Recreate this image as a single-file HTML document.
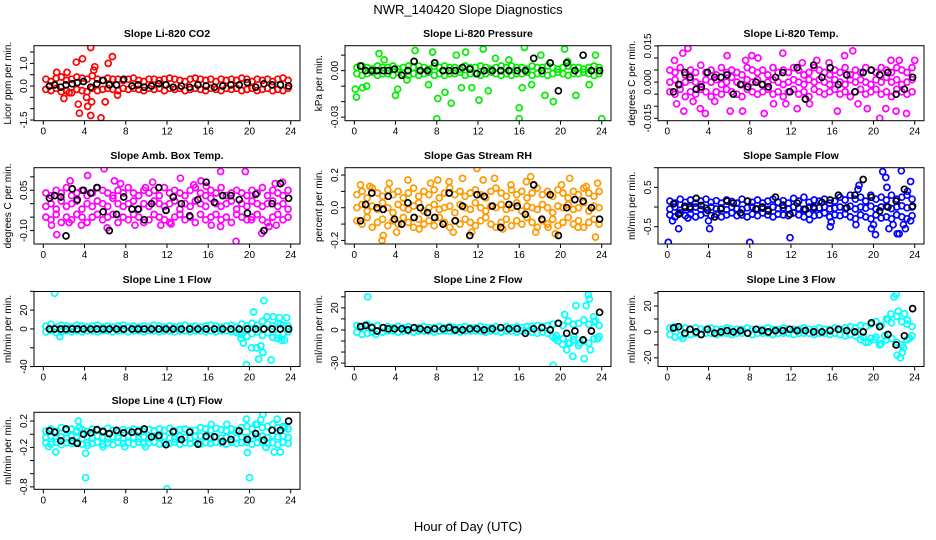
<!DOCTYPE html>
<html><head><meta charset="utf-8"><title>NWR_140420 Slope Diagnostics</title>
<style>
html,body{margin:0;padding:0;background:#fff;}
svg{display:block;font-family:"Liberation Sans",Arial,sans-serif;}
</style></head>
<body>
<svg id="chart" width="936" height="540" viewBox="0 0 936 540">
<defs id="defs"></defs>
<text x="468" y="14" text-anchor="middle" font-size="13">NWR_140420  Slope Diagnostics</text>
<text x="468" y="531" text-anchor="middle" font-size="13">Hour of Day (UTC)</text>
</svg>
<script>
const hours=[0.25,0.75,1.25,1.75,2.25,2.75,3.25,3.75,4.25,4.75,5.25,5.75,6.25,6.75,7.25,7.75,8.25,8.75,9.25,9.75,10.25,10.75,11.25,11.75,12.25,12.75,13.25,13.75,14.25,14.75,15.25,15.75,16.25,16.75,17.25,17.75,18.25,18.75,19.25,19.75,20.25,20.75,21.25,21.75,22.25,22.75,23.25,23.75];
const blackHours=[0.6,1.1,1.7,2.2,2.8,3.3,3.9,4.6,5.2,5.8,6.4,7.1,7.8,8.6,9.2,9.8,10.5,11.2,11.9,12.6,13.4,14.2,15.0,15.8,16.6,17.4,18.2,19.0,19.8,20.6,21.4,22.2,23.0,23.8];
const xTicks=[0,4,8,12,16,20,24];

const co2Hi=[0.3,0.2,0.35,0.4,0.25,0.3,0.4,0.35,0.3,0.45,0.3,0.25,0.35,0.3,0.3,0.25,0.3,0.35,0.25,0.2,0.3,0.3,0.25,0.3,0.35,0.3,0.25,0.2,0.3,0.35,0.3,0.25,0.3,0.2,0.3,0.25,0.3,0.25,0.35,0.3,0.2,0.3,0.25,0.3,0.2,0.3,0.35,0.25];
const co2Lo=[-0.15,-0.2,-0.1,-0.25,-0.2,-0.3,-0.15,-0.2,-0.25,-0.1,-0.2,-0.15,-0.1,-0.15,-0.2,-0.1,-0.15,-0.1,-0.15,-0.2,-0.1,-0.15,-0.1,-0.2,-0.1,-0.15,-0.1,-0.2,-0.15,-0.1,-0.15,-0.2,-0.1,-0.15,-0.2,-0.1,-0.15,-0.1,-0.2,-0.15,-0.1,-0.2,-0.15,-0.1,-0.2,-0.15,-0.2,-0.1];
const co2Out=[[1.3,0.6],[2.3,0.6],[3.2,1.05],[3.8,1.2],[4.6,1.7],[5.0,0.85],[4.9,0.7],[6.3,1.0],[6.7,1.3],[2.0,-0.55],[3.4,-0.8],[3.5,-1.2],[4.2,-0.5],[4.3,-0.9],[4.6,-1.3],[4.7,-0.7],[5.6,-1.4],[6.0,-0.7],[7.2,-0.4],[2.5,-0.3]];
const co2Black=[0.0,0.05,-0.05,0.05,0.1,0.15,0.2,-0.05,0.1,0.25,0.05,0.05,0.3,0.0,0.05,-0.05,0.0,0.1,0.05,-0.05,0.0,-0.05,0.05,0.0,-0.05,0.0,0.05,0.05,0.15,-0.05,0.1,0.05,0.05,0.0];

const presHi=[0.002,0.003,0.002,0.001,0.003,0.002,0.002,0.003,0.001,0.002,0.003,0.002,0.003,0.002,0.001,0.003,0.002,0.003,0.002,0.002,0.001,0.003,0.002,0.002,0.003,0.002,0.001,0.002,0.003,0.002,0.003,0.002,0.002,0.001,0.003,0.002,0.002,0.003,0.002,0.001,0.002,0.003,0.002,0.002,0.001,0.002,0.003,0.002];
const presLo=[-0.002,-0.003,-0.002,-0.001,-0.003,-0.002,-0.002,-0.003,-0.001,-0.002,-0.003,-0.002,-0.003,-0.002,-0.001,-0.003,-0.002,-0.003,-0.002,-0.002,-0.001,-0.003,-0.002,-0.002,-0.003,-0.002,-0.001,-0.002,-0.003,-0.002,-0.003,-0.002,-0.002,-0.001,-0.003,-0.002,-0.002,-0.003,-0.002,-0.001,-0.002,-0.003,-0.002,-0.002,-0.001,-0.002,-0.003,-0.002];
const presOut=[[0.1,-0.012],[0.2,-0.017],[0.8,-0.011],[1.2,-0.01],[2.4,0.011],[2.9,0.007],[4.0,-0.016],[4.2,-0.012],[5.1,-0.006],[5.9,0.013],[7.2,-0.009],[7.6,0.012],[8.0,-0.031],[8.1,-0.018],[8.8,-0.014],[9.4,-0.021],[9.9,0.01],[10.4,-0.011],[10.8,0.012],[11.4,-0.011],[12.1,-0.019],[12.5,0.014],[13.0,-0.013],[13.7,0.008],[15.0,0.007],[16.0,-0.024],[16.0,-0.031],[16.5,0.015],[16.3,-0.011],[17.2,-0.009],[18.1,0.01],[18.5,-0.016],[19.3,-0.02],[20.4,0.014],[20.7,0.006],[21.5,-0.016],[22.8,-0.009],[23.4,0.01],[24.0,-0.031]];
const presBlack=[0.003,0.0,0.0,0.0,0.0,0.0,0.001,-0.003,0.0,0.006,0.0,0.0,0.005,0.0,0.0,0.0,0.002,0.001,-0.002,0.0,0.0,0.0,0.0,0.0,0.0,0.008,0.0,0.005,-0.013,0.005,0.0,0.01,0.0,0.0];

const tempHi=[0.005,0.004,0.006,0.003,0.005,0.004,0.007,0.004,0.005,0.003,0.006,0.004,0.005,0.004,0.003,0.006,0.005,0.004,0.005,0.003,0.006,0.004,0.005,0.004,0.006,0.005,0.003,0.004,0.006,0.005,0.004,0.003,0.005,0.004,0.006,0.003,0.005,0.004,0.006,0.005,0.004,0.006,0.005,0.004,0.006,0.005,0.004,0.006];
const tempMid=[0.0,0.001,-0.001,0.0,0.001,0.0,-0.001,0.001,0.0,0.001,-0.001,0.0,0.002,0.0,-0.001,0.001,0.0,0.001,-0.001,0.0,0.001,0.0,-0.001,0.0,0.001,0.0,-0.001,0.001,0.0,0.001,0.0,-0.001,0.001,0.0,-0.001,0.001,0.0,0.001,0.0,-0.001,0.001,0.0,0.002,0.0,0.001,-0.001,0.0,0.001];
const tempLo=[-0.004,-0.005,-0.003,-0.006,-0.004,-0.005,-0.003,-0.004,-0.006,-0.004,-0.005,-0.003,-0.004,-0.005,-0.006,-0.003,-0.004,-0.005,-0.004,-0.003,-0.005,-0.004,-0.006,-0.004,-0.003,-0.005,-0.004,-0.006,-0.003,-0.004,-0.005,-0.004,-0.003,-0.005,-0.004,-0.006,-0.004,-0.003,-0.005,-0.004,-0.003,-0.005,-0.004,-0.006,-0.003,-0.004,-0.005,-0.004];
const tempOut=[[0.7,0.009],[1.5,0.012],[2.0,0.014],[0.9,-0.009],[1.6,-0.012],[2.5,-0.008],[3.2,-0.011],[3.7,-0.013],[4.6,-0.008],[5.8,0.011],[6.1,-0.012],[7.3,-0.012],[7.6,0.009],[8.2,0.011],[8.8,0.010],[9.4,-0.013],[10.3,-0.009],[11.2,0.012],[11.5,-0.009],[12.6,-0.011],[13.1,0.008],[13.8,-0.009],[14.5,0.009],[15.7,0.008],[16.5,-0.012],[17.2,0.011],[18.0,0.013],[18.5,-0.009],[19.4,-0.011],[20.6,-0.015],[21.2,-0.011],[22.2,-0.012],[22.5,0.009],[23.2,-0.013],[24.0,0.009],[21.7,0.009]];
const tempBlack=[-0.004,-0.001,0.004,0.002,-0.003,-0.002,0.004,0.002,0.002,0.003,-0.005,-0.001,-0.002,0.0,-0.001,-0.002,0.002,0.004,-0.004,0.006,-0.007,0.007,0.002,0.006,-0.001,0.003,-0.004,0.004,0.005,0.003,0.004,-0.005,-0.003,0.002];

const ambHi=[0.04,0.03,0.05,0.04,0.06,0.03,0.04,0.05,0.03,0.04,0.06,0.05,0.04,0.03,0.05,0.04,0.06,0.04,0.03,0.05,0.04,0.05,0.03,0.06,0.04,0.05,0.04,0.03,0.05,0.06,0.04,0.03,0.05,0.04,0.06,0.03,0.04,0.05,0.04,0.03,0.05,0.04,0.06,0.03,0.05,0.04,0.03,0.05];
const ambMid=[-0.01,0.0,-0.02,0.01,-0.01,0.0,0.01,-0.02,0.0,-0.01,0.01,0.0,-0.01,0.02,0.0,-0.01,0.0,0.01,-0.02,0.0,-0.01,0.01,0.0,-0.01,0.0,0.01,-0.02,0.0,-0.01,0.01,0.0,-0.01,0.02,0.0,-0.01,0.0,0.01,-0.02,0.0,-0.01,0.01,0.0,-0.01,0.0,0.01,-0.01,0.0,-0.02];
const ambLo=[-0.05,-0.06,-0.04,-0.07,-0.05,-0.06,-0.04,-0.05,-0.07,-0.05,-0.04,-0.06,-0.05,-0.04,-0.07,-0.05,-0.06,-0.04,-0.05,-0.07,-0.06,-0.04,-0.05,-0.06,-0.07,-0.05,-0.04,-0.06,-0.05,-0.07,-0.04,-0.06,-0.05,-0.04,-0.06,-0.05,-0.07,-0.04,-0.05,-0.06,-0.05,-0.04,-0.06,-0.07,-0.05,-0.04,-0.06,-0.05];
const ambOut=[[1.3,-0.115],[2.6,0.085],[4.3,0.105],[0.8,-0.08],[2.5,-0.07],[5.9,0.13],[6.2,-0.09],[6.9,0.085],[7.5,0.075],[8.9,-0.08],[10.6,0.08],[11.4,-0.08],[13.3,0.095],[14.6,0.07],[15.3,0.085],[15.8,0.065],[17.2,0.12],[17.2,-0.085],[18.7,-0.14],[19.6,0.12],[20.2,-0.06],[21.2,-0.11],[21.9,-0.085],[22.5,0.075],[22.6,-0.08],[23.2,0.08],[12.4,-0.075],[3.7,-0.08],[9.9,0.06],[16.3,-0.08]];
const ambBlack=[0.02,0.03,0.025,-0.12,0.055,0.015,0.05,0.04,0.06,-0.03,-0.1,-0.04,0.025,-0.02,-0.02,-0.06,0.0,0.06,-0.025,0.025,0.0,-0.045,0.015,0.08,0.005,0.03,0.03,0.015,-0.035,0.035,-0.1,0.0,0.075,0.02];

const rhHi=[0.08,0.1,0.06,0.12,0.09,0.07,0.11,0.08,0.1,0.06,0.09,0.12,0.07,0.1,0.08,0.11,0.06,0.09,0.12,0.08,0.1,0.07,0.09,0.11,0.08,0.06,0.1,0.12,0.09,0.07,0.11,0.08,0.1,0.06,0.09,0.12,0.08,0.1,0.07,0.11,0.09,0.06,0.1,0.08,0.12,0.09,0.07,0.1];
const rhMid=[0.0,0.02,-0.02,0.01,-0.01,0.03,0.0,-0.03,0.02,0.0,-0.01,0.01,0.03,-0.02,0.0,0.02,-0.01,0.0,0.01,-0.03,0.02,0.0,-0.01,0.03,0.0,-0.02,0.01,0.0,0.02,-0.01,0.0,0.03,-0.02,0.01,0.0,-0.01,0.02,0.0,-0.03,0.01,0.0,0.02,-0.01,0.0,0.03,-0.02,0.01,0.0];
const rhLo=[-0.08,-0.1,-0.06,-0.12,-0.09,-0.07,-0.11,-0.08,-0.1,-0.06,-0.09,-0.12,-0.07,-0.1,-0.08,-0.11,-0.06,-0.09,-0.12,-0.08,-0.1,-0.07,-0.09,-0.11,-0.08,-0.06,-0.1,-0.12,-0.09,-0.07,-0.11,-0.08,-0.1,-0.06,-0.09,-0.12,-0.08,-0.1,-0.07,-0.11,-0.09,-0.06,-0.1,-0.08,-0.12,-0.09,-0.07,-0.1];
const rhOut=[[0.6,0.14],[1.5,0.13],[2.7,-0.2],[2.8,-0.17],[3.4,0.15],[4.1,-0.15],[5.2,0.17],[6.3,-0.13],[7.4,0.15],[8.1,0.17],[9.2,0.16],[10.5,0.18],[11.4,-0.15],[11.9,0.24],[12.5,0.17],[13.6,0.18],[15.2,0.14],[16.7,0.16],[17.1,0.19],[17.6,-0.15],[18.8,-0.12],[19.5,-0.16],[20.1,0.14],[20.9,0.18],[21.7,-0.12],[22.5,0.13],[23.4,-0.18],[23.6,0.15],[9.6,-0.15],[14.4,-0.13]];
const rhBlack=[-0.08,0.02,0.09,0.0,-0.01,0.07,-0.07,-0.1,0.03,-0.06,0.0,-0.03,-0.06,-0.1,0.09,-0.08,0.01,-0.17,0.08,0.07,0.01,-0.12,0.02,0.01,-0.04,0.14,-0.07,0.08,-0.17,0.0,0.05,0.04,0.0,-0.07];

const sampHi=[0.15,0.1,0.2,0.12,0.18,0.1,0.15,0.2,0.12,0.16,0.1,0.18,0.14,0.1,0.2,0.15,0.12,0.18,0.1,0.15,0.2,0.12,0.16,0.1,0.22,0.15,0.25,0.12,0.18,0.15,0.2,0.1,0.15,0.25,0.18,0.3,0.2,0.25,0.15,0.3,0.2,0.25,0.18,0.3,0.2,0.25,0.3,0.2];
const sampMid=[-0.05,0.0,-0.08,-0.02,-0.05,0.0,-0.06,-0.03,0.0,-0.05,-0.02,-0.07,0.0,-0.04,-0.06,-0.02,0.0,-0.05,-0.03,-0.06,0.0,-0.04,-0.02,-0.05,0.0,-0.03,-0.06,0.0,-0.04,-0.02,0.0,-0.05,-0.03,0.0,-0.04,0.02,-0.05,0.0,-0.03,0.02,-0.05,0.0,0.02,-0.04,0.0,0.03,-0.02,0.0];
const sampLo=[-0.2,-0.25,-0.15,-0.22,-0.18,-0.25,-0.2,-0.15,-0.22,-0.18,-0.25,-0.2,-0.15,-0.22,-0.2,-0.25,-0.18,-0.22,-0.15,-0.2,-0.25,-0.18,-0.2,-0.22,-0.15,-0.2,-0.25,-0.18,-0.22,-0.2,-0.15,-0.25,-0.2,-0.22,-0.18,-0.25,-0.3,-0.2,-0.25,-0.3,-0.2,-0.28,-0.25,-0.3,-0.2,-0.25,-0.3,-0.22];
const sampOut=[[0.1,-0.9],[0.5,-0.35],[1.1,-0.55],[2.0,-0.28],[4.1,-0.55],[4.0,-0.35],[8.0,-0.9],[11.9,-0.78],[13.8,-0.32],[15.8,-0.5],[15.9,-0.38],[18.3,-0.45],[18.6,0.55],[18.5,0.45],[19.8,-0.55],[20.2,-0.7],[20.0,-0.45],[20.9,0.9],[21.2,0.75],[21.3,0.5],[21.5,-0.55],[22.3,-0.68],[22.5,-0.68],[22.7,0.92],[22.9,-0.45],[23.1,-0.55],[23.3,0.4],[23.6,0.65],[23.6,-0.35],[21.9,-0.45]];
const sampBlack=[0.08,-0.18,0.02,0.0,0.22,0.04,-0.08,-0.25,-0.05,0.15,0.1,-0.15,0.15,-0.05,0.0,-0.1,0.25,0.05,-0.18,0.1,-0.06,0.0,0.12,0.18,0.3,-0.02,0.3,0.7,0.25,-0.1,0.0,0.15,0.45,0.02];

const l1Hi=[3,5,2,4,3,2,4,3,2,3,4,2,3,2,3,4,2,3,2,3,2,4,3,2,3,2,3,4,2,3,2,3,4,3,2,3,4,2,5,3,6,4,8,5,3,6,4,3];
const l1Lo=[-3,-2,-4,-3,-2,-3,-2,-3,-2,-2,-3,-2,-2,-3,-2,-2,-3,-2,-2,-3,-2,-2,-3,-2,-2,-3,-2,-2,-3,-2,-2,-3,-2,-3,-2,-2,-3,-4,-6,-8,-5,-3,-7,-4,-9,-6,-5,-3];
const l1Out=[[1.1,38],[1.6,-8],[19.2,-10],[19.7,-38],[19.4,-15],[20.2,-20],[20.4,18],[20.7,-20],[20.9,-32],[21.1,-18],[21.3,-25],[21.4,30],[21.7,13],[22.1,-33],[22.3,13],[22.7,-10],[22.9,12],[23.1,-12],[23.4,-12],[23.6,12],[19.0,-5],[23.0,5]];
const l1Black=[0,0,0,0,0,0,0,0,0,0,0,0,0,0,0,0,0,0,0,0,0,0,0,0,0,0,0,0,0,0,0,0,0,0];

const l2Hi=[4,3,5,3,4,2,3,2,3,2,3,2,2,3,2,2,3,2,3,2,2,3,2,2,3,2,2,3,2,3,2,3,2,3,3,4,3,4,5,6,4,8,5,6,9,5,7,4];
const l2Lo=[-2,-4,-3,-2,-1,-2,-1,-1,-2,-1,-1,-2,-1,-1,-1,-2,-1,-1,-1,-1,-2,-1,-1,-1,-1,-2,-1,-1,-2,-1,-1,-2,-1,-1,-2,-3,-2,-3,-6,-10,-8,-12,-9,-14,-10,-12,-8,-6];
const l2Out=[[1.3,30],[2.1,-4],[19.3,-32],[19.5,-8],[19.6,-5],[20.2,-13],[20.4,14],[20.6,-18],[20.9,-12],[21.2,-24],[21.3,-6],[21.5,22],[21.9,-12],[22.3,-26],[22.5,22],[22.8,28],[22.9,-18],[23.2,12],[23.4,8],[23.6,-8],[22.7,32]];
const l2Black=[3,4,2,-1,2,1,1,1,0,2,1,0,1,1,2,0,0,1,1,0,1,2,1,1,-3,1,2,0,6,-3,-1,-9,-1,16];

const l3Hi=[3,4,2,3,2,3,2,2,3,2,2,3,2,2,2,3,2,2,2,3,2,2,3,2,2,2,3,2,2,3,2,2,3,2,3,4,3,5,4,6,8,5,10,7,12,8,6,4];
const l3Lo=[-2,-4,-3,-2,-2,-1,-2,-1,-1,-2,-1,-1,-2,-1,-1,-1,-2,-1,-1,-1,-2,-1,-1,-1,-2,-1,-1,-1,-2,-1,-1,-2,-1,-2,-3,-2,-3,-6,-8,-5,-4,-9,-6,-5,-8,-10,-6,-3];
const l3Out=[[1.5,-5],[19.0,-4],[19.5,-8],[20.1,-6],[20.6,-10],[21.1,-3],[21.4,10],[21.7,14],[22.0,27],[22.2,29],[22.3,-18],[22.6,-20],[22.8,-16],[23.0,14],[23.3,9],[22.9,-12],[23.5,-5],[22.4,16]];
const l3Black=[3,4,-1,2,0,-2,2,-1,0,1,0,1,-1,2,1,0,1,1,2,1,1,0,0,1,2,1,0,0,7,4,-2,-10,-3,18];

const l4Hi=[0.05,0.08,0.04,0.1,0.06,0.08,0.05,0.07,0.04,0.08,0.06,0.05,0.09,0.06,0.04,0.07,0.05,0.08,0.06,0.04,0.07,0.05,0.08,0.06,0.09,0.05,0.07,0.08,0.05,0.06,0.1,0.08,0.06,0.09,0.07,0.05,0.08,0.06,0.1,0.12,0.08,0.15,0.1,0.12,0.15,0.1,0.12,0.08];
const l4Mid=[-0.05,-0.03,-0.07,-0.04,-0.06,-0.03,-0.05,-0.07,-0.04,-0.06,-0.03,-0.05,-0.07,-0.04,-0.05,-0.06,-0.03,-0.05,-0.07,-0.04,-0.06,-0.03,-0.05,-0.04,-0.06,-0.07,-0.03,-0.05,-0.06,-0.04,-0.03,-0.05,-0.07,-0.04,-0.06,-0.05,-0.03,-0.06,-0.04,-0.05,-0.02,-0.04,-0.03,-0.05,-0.02,-0.04,-0.03,-0.05];
const l4Lo=[-0.13,-0.15,-0.12,-0.16,-0.13,-0.14,-0.12,-0.15,-0.13,-0.14,-0.12,-0.15,-0.13,-0.16,-0.12,-0.14,-0.13,-0.15,-0.12,-0.14,-0.13,-0.12,-0.15,-0.13,-0.14,-0.12,-0.15,-0.13,-0.14,-0.12,-0.15,-0.13,-0.14,-0.12,-0.13,-0.15,-0.12,-0.14,-0.13,-0.12,-0.15,-0.13,-0.12,-0.14,-0.13,-0.16,-0.12,-0.14];
const l4Out=[[0.5,-0.19],[1.2,-0.27],[3.4,0.2],[3.5,0.1],[4.1,-0.66],[4.1,-0.29],[4.3,-0.17],[5.8,-0.19],[7.9,-0.19],[9.9,-0.19],[12.0,-0.83],[16.3,0.15],[19.7,0.23],[19.8,-0.28],[20.0,-0.66],[20.6,0.15],[21.1,0.22],[21.3,0.3],[21.6,-0.2],[22.4,-0.27],[22.7,0.23],[23.0,-0.27],[23.4,0.1],[17.8,0.15]];
const l4Black=[0.05,0.03,-0.1,0.08,-0.1,-0.14,0.0,0.02,0.07,0.04,0.01,0.06,0.02,0.03,0.04,0.08,-0.04,-0.02,-0.16,0.04,-0.08,0.03,-0.15,-0.03,-0.04,-0.11,-0.08,0.05,-0.08,0.01,-0.09,0.06,0.06,0.2];

const panels=[
 {id:'co2',title:'Slope Li-820 CO2',ylab:'Licor ppm per min.',col:0,row:0,dom:[-1.53,1.78],ticks:[-1.5,-1,-0.5,0,0.5,1,1.5],labels:[[-1.5,'-1.5'],[0,'0.0'],[1,'1.0']],color:'#ff0000',bands:[co2Hi,co2Lo],out:co2Out,black:co2Black},
 {id:'pressure',title:'Slope Li-820 Pressure',ylab:'kPa per min.',col:1,row:0,dom:[-0.0323,0.0161],ticks:[-0.03,-0.02,-0.01,0,0.01],labels:[[-0.03,'-0.03'],[0,'0.00']],color:'#00ee00',bands:[presHi,presLo],out:presOut,black:presBlack},
 {id:'temp',title:'Slope Li-820 Temp.',ylab:'degrees C per min.',col:2,row:0,dom:[-0.016,0.0151],ticks:[-0.015,-0.01,-0.005,0,0.005,0.01,0.015],labels:[[-0.015,'-0.015'],[0,'0.000'],[0.015,'0.015']],color:'#ff00ff',bands:[tempHi,tempMid,tempLo],out:tempOut,black:tempBlack},
 {id:'ambtemp',title:'Slope Amb. Box Temp.',ylab:'degrees C per min.',col:0,row:1,dom:[-0.15,0.134],ticks:[-0.1,-0.05,0,0.05,0.1],labels:[[-0.1,'-0.10'],[0.05,'0.05']],color:'#ff00ff',bands:[ambHi,ambMid,ambLo],out:ambOut,black:ambBlack},
 {id:'rh',title:'Slope Gas Stream RH',ylab:'percent per min.',col:1,row:1,dom:[-0.222,0.245],ticks:[-0.2,-0.1,0,0.1,0.2],labels:[[-0.2,'-0.2'],[0,'0.0'],[0.2,'0.2']],color:'#ff9900',bands:[rhHi,rhMid,rhLo],out:rhOut,black:rhBlack},
 {id:'sampleflow',title:'Slope Sample Flow',ylab:'ml/min per min.',col:2,row:1,dom:[-0.94,1.0],ticks:[-0.5,0,0.5,1.0],labels:[[-0.5,'-0.5'],[0.5,'0.5']],color:'#0000ff',bands:[sampHi,sampMid,sampLo],out:sampOut,black:sampBlack},
 {id:'line1',title:'Slope Line 1 Flow',ylab:'ml/min per min.',col:0,row:2,dom:[-39.9,39.8],ticks:[-40,-20,0,20,40],labels:[[-40,'-40'],[0,'0'],[20,'20']],color:'#00ffff',bands:[l1Hi,l1Lo],out:l1Out,black:l1Black},
 {id:'line2',title:'Slope Line 2 Flow',ylab:'ml/min per min.',col:1,row:2,dom:[-33.1,34.8],ticks:[-30,-20,-10,0,10,20,30],labels:[[-30,'-30'],[0,'0'],[20,'20']],color:'#00ffff',bands:[l2Hi,l2Lo],out:l2Out,black:l2Black},
 {id:'line3',title:'Slope Line 3 Flow',ylab:'ml/min per min.',col:2,row:2,dom:[-26.7,31.2],ticks:[-20,-10,0,10,20,30],labels:[[-20,'-20'],[0,'0'],[20,'20']],color:'#00ffff',bands:[l3Hi,l3Lo],out:l3Out,black:l3Black},
 {id:'line4',title:'Slope Line 4 (LT) Flow',ylab:'ml/min per min.',col:0,row:3,dom:[-0.837,0.333],ticks:[-0.8,-0.6,-0.4,-0.2,0,0.2],labels:[[-0.8,'-0.8'],[-0.2,'-0.2'],[0.2,'0.2']],color:'#00ffff',bands:[l4Hi,l4Mid,l4Lo],out:l4Out,black:l4Black}
];

const NS='http://www.w3.org/2000/svg';
const svg=document.getElementById('chart');
const defs=document.getElementById('defs');
const colLeft=[34,345,658];
const rowBox=[[45.7,120.7],[167.7,244],[291.5,366.5],[412.3,489.3]];
const boxW=266;
function mk(tag,attrs,parent){const e=document.createElementNS(NS,tag);for(const k in attrs)e.setAttribute(k,attrs[k]);parent.appendChild(e);return e;}

panels.forEach(p=>{
  const L=colLeft[p.col],T=rowBox[p.row][0],B=rowBox[p.row][1],R=L+boxW;
  const X=h=>L+9.3+h*(247.4/24);
  const Y=v=>B-(v-p.dom[0])/(p.dom[1]-p.dom[0])*(B-T);
  const cp=mk('clipPath',{id:'clip-'+p.id},defs);
  mk('rect',{x:L,y:T,width:boxW,height:B-T},cp);
  const g=mk('g',{},svg);
  
  
  const t=mk('text',{x:(L+R)/2,y:T-8.5,'text-anchor':'middle','font-size':'10.5','font-weight':'bold'},g);
  t.textContent=p.title;
  
  
  const pts=mk('g',{fill:'none','stroke-width':'1.7','clip-path':'url(#clip-'+p.id+')'},g);
  
  
  p.bands.forEach(arr=>{arr.forEach((v,i)=>{
    const c=mk('circle',{cx:X(hours[i]).toFixed(1),cy:Y(v).toFixed(1),r:3,stroke:p.color},pts);
    
    
  });});
  p.out.forEach(o=>{
    const c=mk('circle',{cx:X(o[0]).toFixed(1),cy:Y(o[1]).toFixed(1),r:3,stroke:p.color},pts);
    
    
  });
  p.black.forEach((v,i)=>{
    const c=mk('circle',{cx:X(blackHours[i]).toFixed(1),cy:Y(v).toFixed(1),r:3,stroke:'#000'},pts);
    
    
  });
  const box=mk('rect',{x:L,y:T,width:boxW,height:B-T,fill:'none',stroke:'#000','stroke-width':'1'},g);
  
  
  const xa=mk('g',{'font-size':'10'},g);
  
  
  xTicks.forEach(h=>{
    mk('line',{x1:X(h),x2:X(h),y1:B,y2:B+4,stroke:'#000'},xa);
    const tx=mk('text',{x:X(h),y:B+14,'text-anchor':'middle'},xa);
    tx.textContent=h;
    
    
  });
  const ya=mk('g',{'font-size':'10'},g);
  
  
  p.ticks.forEach(v=>{mk('line',{x1:L-4,x2:L,y1:Y(v),y2:Y(v),stroke:'#000'},ya);});
  p.labels.forEach(lb=>{
    const y=Y(lb[0]);
    const tx=mk('text',{x:L-7,y:y,'text-anchor':'middle',transform:`rotate(-90 ${L-7} ${y})`},ya);
    tx.textContent=lb[1];
    
    
  });
  const ym=(T+B)/2;
  const yt=mk('text',{x:L-23,y:ym,'text-anchor':'middle','font-size':'10',transform:`rotate(-90 ${L-23} ${ym})`},g);
  yt.textContent=p.ylab;
  
  
});
</script>
</body></html>
